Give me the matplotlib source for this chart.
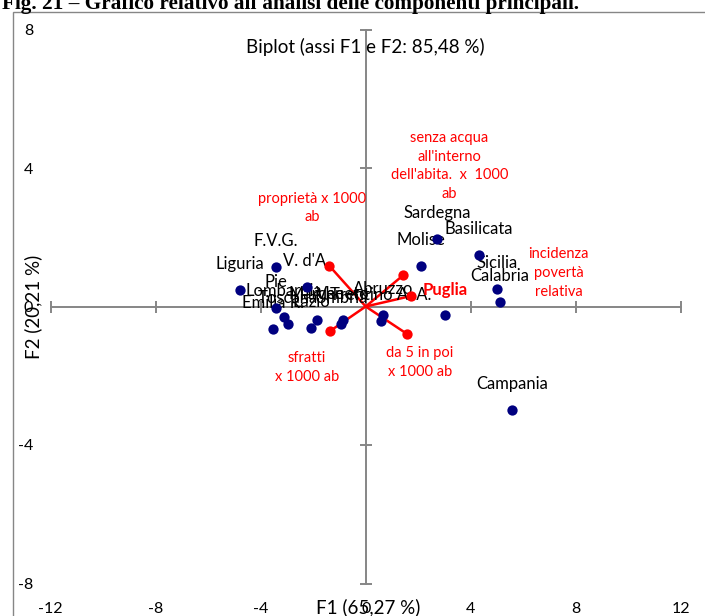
import matplotlib
matplotlib.use("Agg")
import matplotlib.pyplot as plt
from matplotlib.patches import Rectangle

plt.rcParams['font.family'] = ['Lato', 'DejaVu Sans']
plt.rcParams['axes.unicode_minus'] = False

# observations (regions): F1, F2 scores
regions = ["Liguria", "F.V.G.", "V. d'A.", "Pie", "Lombardia", "Toscana", "Emilia R.",
           "Lazio", "Marche", "Veneto", "Umbria", "Abruzzo", "Trentino A. A.", "Puglia",
           "Molise", "Sardegna", "Basilicata", "Sicilia", "Calabria", "Campania"]
f1 = [-4.79, -3.42, -2.24, -3.42, -3.11, -2.96, -3.53, -2.08, -1.86, -0.86, -0.94,
      0.66, 0.58, 3.02, 2.11, 2.72, 4.32, 5.00, 5.12, 5.57]
f2 = [0.48, 1.14, 0.56, -0.04, -0.30, -0.51, -0.65, -0.62, -0.39, -0.39, -0.51,
      -0.25, -0.42, -0.25, 1.17, 1.95, 1.49, 0.51, 0.13, -2.99]

# variables (loadings)
variables = ["proprietà x 1000\nab",
             "senza acqua\nall'interno\ndell'abita.  x  1000\nab",
             "incidenza\npovertà\nrelativa",
             "sfratti\nx 1000 ab",
             "da 5 in poi\nx 1000 ab"]
v1 = [-1.38, 1.44, 1.71, -1.36, 1.57]
v2 = [1.17, 0.91, 0.30, -0.71, -0.79]
var_offsets = [(-17, 58), (46, 109), (148, 23), (-23, -36), (13, -29)]

xticks = [-12, -8, -4, 0, 4, 8, 12]
yticks = [-8, -4, 0, 4, 8]

gray = '#868686'
navy = '#000080'
red = '#ff0000'

W, H = 705, 616
fig = plt.figure(figsize=(W / 100, H / 100), dpi=100)

# chart frame (only left and top edges visible)
fig.add_artist(Rectangle((13 / W, -0.2), 1.2, (H - 12) / H + 0.2, transform=fig.transFigure,
                         fill=False, edgecolor=gray, linewidth=1.0))

fig.text(2 / W, 1 - 9 / H, "Fig. 21 \u2013 Grafico relativo all'analisi delle componenti principali.",
         family='Liberation Serif', weight='bold', fontsize=15.3, ha='left', va='baseline')

rect = [50.7 / W, (H - 583.5) / H, 630 / W, 554 / H]
ax = fig.add_axes(rect)
ax.set_xlim(-12, 12)
ax.set_ylim(-8, 8)
ax.patch.set_alpha(0)
for s in ['top', 'right']:
    ax.spines[s].set_visible(False)
for s in ['left', 'bottom']:
    ax.spines[s].set_position(('data', 0))
    ax.spines[s].set_color(gray)
    ax.spines[s].set_linewidth(1.4)
ax.set_xticks(xticks)
ax.set_yticks(yticks)
ax.tick_params(direction='inout', length=8, width=1.4, color=gray,
               labelbottom=False, labelleft=False)

# tick labels along the outer edges
lab = fig.add_axes(rect, sharex=ax, sharey=ax, frameon=False)
lab.tick_params(length=0, labelsize=11.5)
lab.tick_params(axis='x', pad=13)
lab.tick_params(axis='y', pad=12.5)
lab.set_xticks(xticks)
lab.set_yticks(yticks)
lab.set_zorder(-1)

# loading vectors
for x, y, name, off in zip(v1, v2, variables, var_offsets):
    ax.plot([0, x], [0, y], color=red, linewidth=1.8, zorder=3)
    ax.annotate(name, (x, y), xytext=off, textcoords='offset pixels', ha='center',
                va='center', color=red, fontsize=10.5, linespacing=1.45)
ax.scatter(v1, v2, s=55, color=red, zorder=4, linewidths=0)

# observations
ax.scatter(f1, f2, s=55, color=navy, zorder=4, linewidths=0)
for x, y, name in zip(f1, f2, regions):
    if name == "Puglia":
        ax.annotate(name, (x, y), xytext=(0, 25), textcoords='offset pixels', ha='center',
                    va='center', color=red, fontsize=12, weight='bold')
    else:
        ax.annotate(name, (x, y), xytext=(0, 26), textcoords='offset pixels', ha='center',
                    va='center', color='black', fontsize=12)

fig.text(365 / W, 1 - 47 / H, "Biplot (assi F1 e F2: 85,48 %)", ha='center', va='center',
         fontsize=13.5)
fig.text(368 / W, 1 - 607 / H, "F1 (65,27 %)", ha='center', va='center', fontsize=13.5)
fig.text(33 / W, 1 - 307 / H, "F2 (20,21 %)", ha='center', va='center', fontsize=13.5,
         rotation=90)

fig.savefig("out.png", dpi=100)
